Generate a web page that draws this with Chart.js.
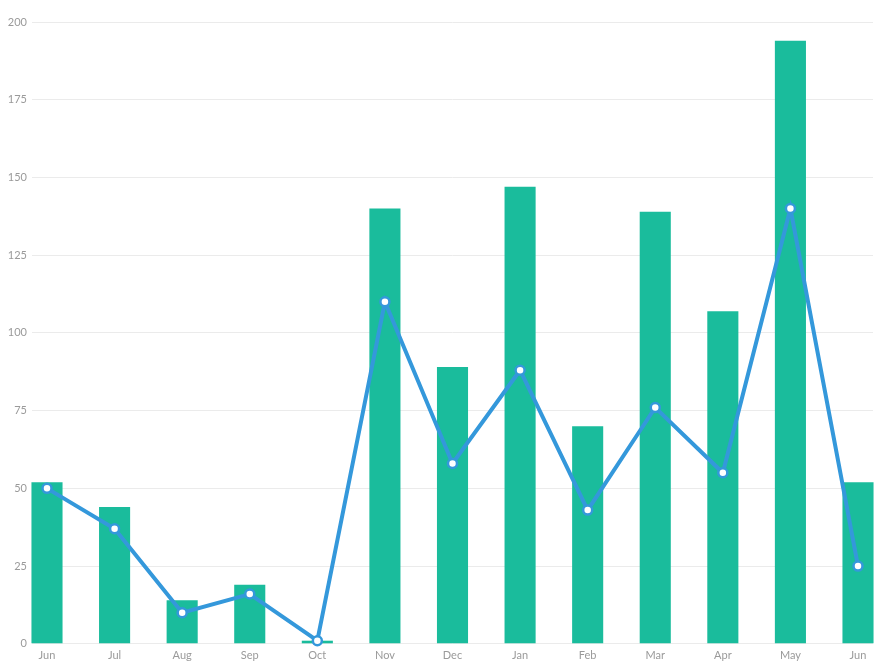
<!DOCTYPE html>
<html lang="en">
<head>
  <meta charset="UTF-8">
  <title>Monthly chart</title>
  <script src="https://cdn.jsdelivr.net/npm/chart.js"></script>
  <style>
    html, body {
      margin: 0;
      padding: 0;
      background: #fff;
    }
    .wrap {
      width: 889px;
      height: 667px;
      position: relative;
    }
  </style>
</head>
<body>
  <div class="wrap">
    <canvas id="chart"></canvas>
  </div>

  <script>
    const months = ['Jun', 'Jul', 'Aug', 'Sep', 'Oct', 'Nov', 'Dec', 'Jan', 'Feb', 'Mar', 'Apr', 'May', 'Jun'];
    const barValues = [52, 44, 14, 19, 1, 140, 89, 147, 70, 139, 107, 194, 52];
    const lineValues = [50, 37, 10, 16, 1, 110, 58, 88, 43, 76, 55, 140, 25];
    const yMin = 0;
    const yMax = 200;
    const yStep = 25;

    const tickFont = { family: 'Lato, "Open Sans", sans-serif', size: 11 };
    const tickColor = '#9a9a9a';
    const gridColor = '#ebebeb';

    const ctx = document.getElementById('chart').getContext('2d');
    new Chart(ctx, {
      type: 'bar',
      data: {
        labels: months,
        datasets: [
          {
            type: 'line',
            data: lineValues,
            borderColor: '#3498db',
            borderWidth: 4,
            tension: 0,
            pointRadius: 4.5,
            pointBorderWidth: 2.5,
            pointBackgroundColor: '#ffffff',
            pointBorderColor: '#3498db',
            clip: false,
            order: 0
          },
          {
            type: 'bar',
            data: barValues,
            backgroundColor: '#1abc9c',
            barPercentage: 0.46,
            categoryPercentage: 1,
            clip: false,
            order: 1
          }
        ]
      },
      options: {
        responsive: true,
        maintainAspectRatio: false,
        animation: false,
        layout: { padding: { top: 22, left: 0, right: 15, bottom: 0 } },
        plugins: {
          legend: { display: false },
          tooltip: { enabled: false }
        },
        scales: {
          x: {
            offset: false,
            grid: { display: false, drawTicks: false },
            border: { display: false },
            ticks: { color: tickColor, font: tickFont, padding: 5, maxRotation: 0, autoSkip: false }
          },
          y: {
            min: yMin,
            max: yMax,
            grid: { color: gridColor, tickLength: 15, tickColor: gridColor },
            border: { display: false },
            ticks: { stepSize: yStep, color: tickColor, font: tickFont, padding: 5 },
            afterFit: (scale) => { scale.width = 47; }
          },
          yRight: {
            position: 'right',
            min: yMin,
            max: yMax,
            grid: { color: gridColor, tickLength: 15, tickColor: gridColor, drawOnChartArea: false },
            border: { display: false },
            ticks: { stepSize: yStep, display: false },
            afterFit: (scale) => { scale.width = 16; }
          }
        }
      }
    });
  </script>
</body>
</html>
